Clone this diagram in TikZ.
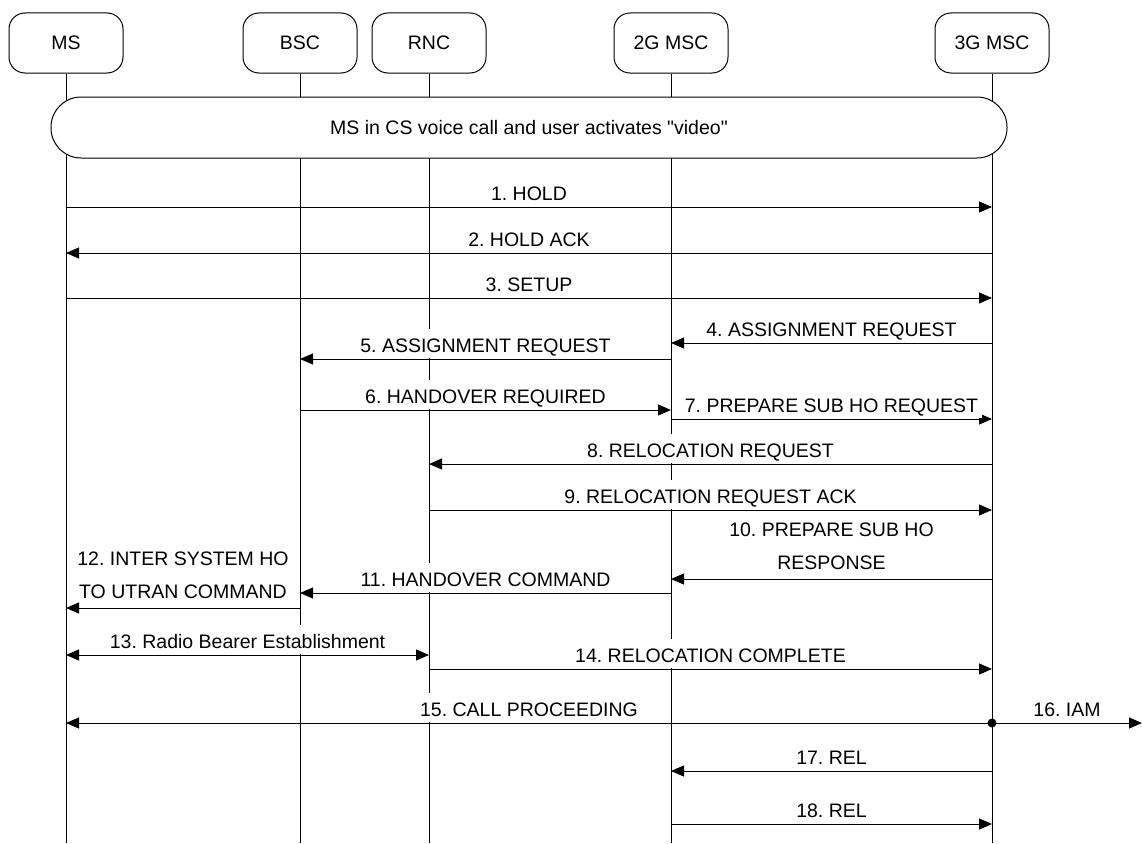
\documentclass[tikz,border=0pt]{standalone}
\usepackage{fontspec}
\setmainfont{Liberation Sans}[Ligatures=TeXOff]
\frenchspacing
\usetikzlibrary{arrows.meta,positioning}

\begin{document}
\begin{tikzpicture}[x=1pt,y=-1pt,
    font=\fontsize{19.5}{33}\selectfont,
    entity/.style={draw, rounded corners=16pt, minimum width=114pt, minimum height=60pt, line width=1pt},
    life/.style={line width=1pt},
    msg/.style={line width=1pt, -{Triangle[length=13pt,width=11pt]}},
    msgboth/.style={line width=1pt, {Triangle[length=13pt,width=11pt]}-{Triangle[length=13pt,width=11pt]}},
    lbl/.style={midway, fill=white, anchor=base, yshift=7pt, text height=17pt, text depth=0pt, inner xsep=4pt, inner ysep=6pt},
    lbltwo/.style={midway, fill=white, align=center, anchor=south, yshift=6pt, inner xsep=4pt, inner ysep=3pt}]
    \useasboundingbox (0,0) rectangle (1142,843);
    % entities
    \node[entity] (ms) at (66,43) {MS};
    \node[entity] (bsc) at (300,43) {BSC};
    \node[entity] (rnc) at (429,43) {RNC};
    \node[entity] (msc2g) at (671,43) {2G MSC};
    \node[entity] (msc3g) at (992,43) {3G MSC};
    % lifelines
    \foreach \n in {ms,bsc,rnc,msc2g,msc3g}
        \draw[life] (\n.south) -- (\n.south |- 0,843);
    % state box
    \node[draw, fill=white, line width=1pt, rounded corners=30pt, minimum width=956pt, minimum height=61pt] (voice) at (529,127.5) {MS in CS voice call and user activates "video"};
    % messages
    \draw[msg] (ms |- 0,207) -- (msc3g |- 0,207) node[lbl] {1. HOLD};
    \draw[msg] (msc3g |- 0,253) -- (ms |- 0,253) node[lbl] {2. HOLD ACK};
    \draw[msg] (ms |- 0,298) -- (msc3g |- 0,298) node[lbl] {3. SETUP};
    \draw[msg] (msc3g |- 0,343) -- (msc2g |- 0,343) node[lbl] {4. ASSIGNMENT REQUEST};
    \draw[msg] (msc2g |- 0,359) -- (bsc |- 0,359) node[lbl] {5. ASSIGNMENT REQUEST};
    \draw[msg] (bsc |- 0,410) -- (msc2g |- 0,410) node[lbl] {6. HANDOVER REQUIRED};
    \draw[msg] (msc2g |- 0,419) -- (msc3g |- 0,419) node[lbl] {7. PREPARE SUB HO REQUEST};
    \draw[msg] (msc3g |- 0,464) -- (rnc |- 0,464) node[lbl] {8. RELOCATION REQUEST};
    \draw[msg] (rnc |- 0,510) -- (msc3g |- 0,510) node[lbl] {9. RELOCATION REQUEST ACK};
    \draw[msg] (msc3g |- 0,579) -- (msc2g |- 0,579) node[lbltwo] {10. PREPARE SUB HO\\RESPONSE};
    \draw[msg] (msc2g |- 0,593) -- (bsc |- 0,593) node[lbl] {11. HANDOVER COMMAND};
    \draw[msg] (bsc |- 0,608) -- (ms |- 0,608) node[lbltwo] {12. INTER SYSTEM HO\\TO UTRAN COMMAND};
    \draw[msgboth] (ms |- 0,655) -- (rnc |- 0,655) node[lbl] {13. Radio Bearer Establishment};
    \draw[msg] (rnc |- 0,669) -- (msc3g |- 0,669) node[lbl] {14. RELOCATION COMPLETE};
    \draw[msg] (msc3g |- 0,723) -- (ms |- 0,723) node[lbl] {15. CALL PROCEEDING};
    \node[circle, fill, inner sep=0pt, minimum size=9pt] (iam) at (msc3g |- 0,723) {};
    \coordinate (iamend) at (1142,723);
    \draw[msg] (iam.center) -- (iamend) node[lbl] {16. IAM};
    \draw[msg] (msc3g |- 0,771) -- (msc2g |- 0,771) node[lbl] {17. REL};
    \draw[msg] (msc2g |- 0,824) -- (msc3g |- 0,824) node[lbl] {18. REL};
\end{tikzpicture}
\end{document}
